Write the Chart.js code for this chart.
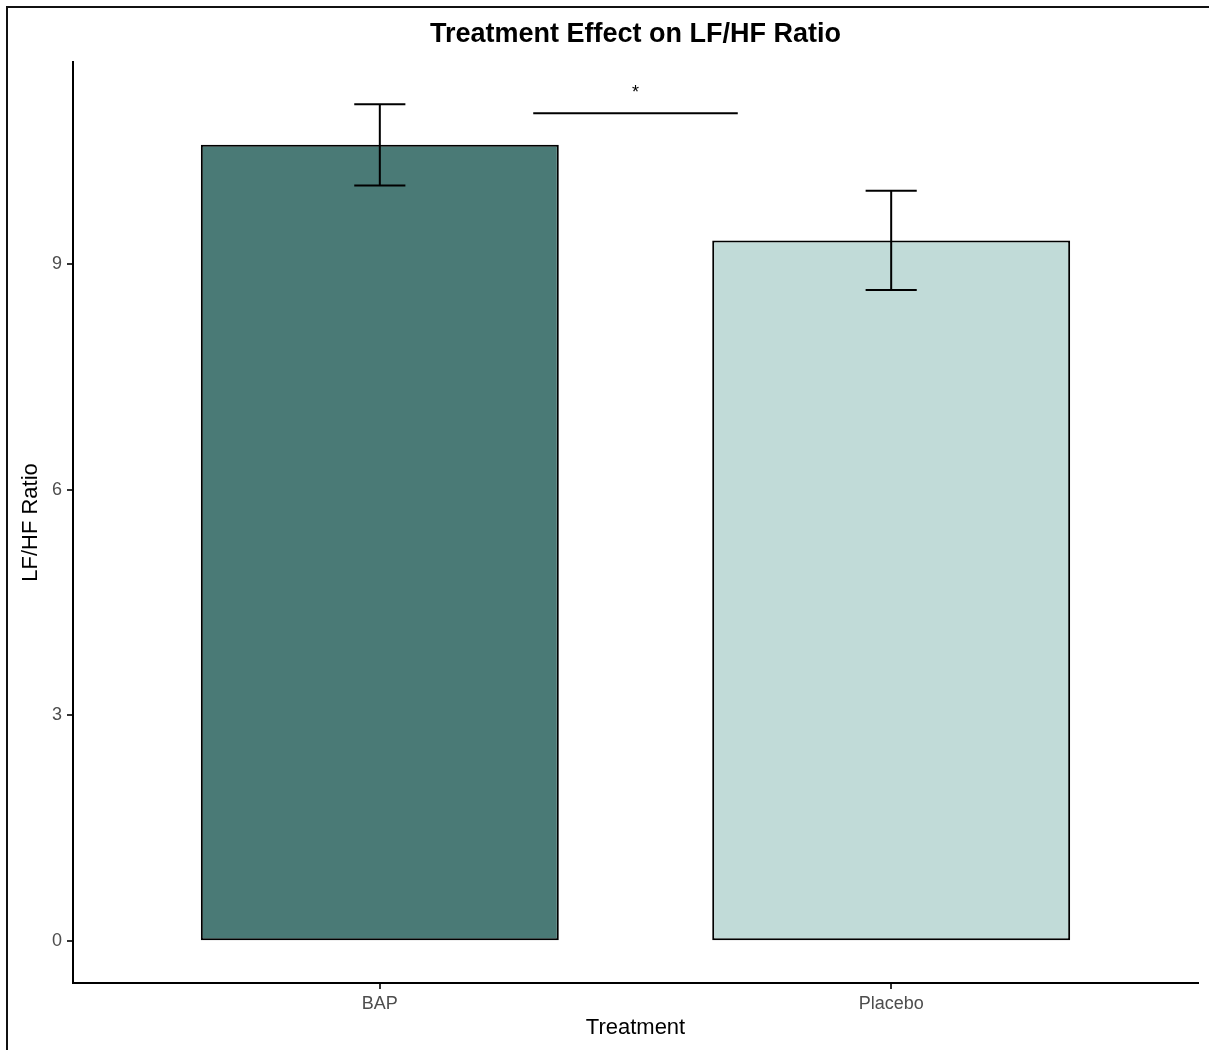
<!DOCTYPE html>
<html>
<head>
<meta charset="utf-8">
<script src="https://cdn.jsdelivr.net/npm/chart.js@4.4.1/dist/chart.umd.min.js"></script>
<style>
  html, body { margin: 0; padding: 0; background: #fff; overflow: hidden; }
  #wrap { position: relative; width: 1209px; height: 1050px; }
  #frame { position: absolute; left: 6px; top: 6px; width: 1300px; height: 1200px;
           border: 2px solid #111; pointer-events: none; }
  canvas { display: block; }
</style>
</head>
<body>
<div id="wrap">
  <canvas id="c" width="1209" height="1050"></canvas>
  <div id="frame"></div>
</div>
<script>
// Mean LF/HF ratio per treatment group with standard errors
const categories = ['BAP', 'Placebo'];
const meanRatio = [10.58, 9.31];
const stdError = [0.54, 0.66];
const barColors = ['#4a7a76', '#c1dbd8'];
const yTicks = [0, 3, 6, 9];

// Significance bracket between the groups
const sigSpan = [1.3, 1.7];
const sigHeight = 11.0;
const sigText = '*';

const chartTitle = 'Treatment Effect on LF/HF Ratio';
const FONT = '"Liberation Sans", Arial, Helvetica, sans-serif';
Chart.defaults.font.family = FONT;

const overlayPlugin = {
  id: 'overlay',
  afterDatasetsDraw(chart) {
    const { ctx, chartArea, scales: { x, y } } = chart;
    ctx.save();
    ctx.strokeStyle = '#000';
    ctx.lineWidth = 2;
    ctx.lineCap = 'butt';
    // error bars (mean ± SE)
    categories.forEach((c, i) => {
      const cx = x.getPixelForValue(i + 1);
      const half = x.getPixelForValue(i + 1 + 0.05) - cx;
      const yHi = y.getPixelForValue(meanRatio[i] + stdError[i]);
      const yLo = y.getPixelForValue(meanRatio[i] - stdError[i]);
      ctx.beginPath();
      ctx.moveTo(cx, yHi); ctx.lineTo(cx, yLo);
      ctx.moveTo(cx - half, yHi); ctx.lineTo(cx + half, yHi);
      ctx.moveTo(cx - half, yLo); ctx.lineTo(cx + half, yLo);
      ctx.stroke();
    });
    // significance bracket
    const x0 = x.getPixelForValue(sigSpan[0]);
    const x1 = x.getPixelForValue(sigSpan[1]);
    const ys = y.getPixelForValue(sigHeight);
    ctx.beginPath();
    ctx.moveTo(x0, ys); ctx.lineTo(x1, ys);
    ctx.stroke();
    ctx.fillStyle = '#000';
    ctx.font = '18px ' + FONT;
    ctx.textAlign = 'center';
    ctx.textBaseline = 'alphabetic';
    ctx.fillText(sigText, (x0 + x1) / 2, ys - 15);
    // title centred over the plotting panel
    ctx.font = 'bold 27px ' + FONT;
    ctx.textBaseline = 'middle';
    ctx.fillText(chartTitle, (chartArea.left + chartArea.right) / 2, 35);
    ctx.restore();
  }
};

new Chart(document.getElementById('c'), {
  type: 'bar',
  data: {
    datasets: [{
      data: categories.map((c, i) => ({ x: i + 1, y: meanRatio[i] })),
      backgroundColor: barColors,
      borderColor: '#000',
      borderWidth: 2,
      borderSkipped: false,
      categoryPercentage: 1,
      barPercentage: 0.7
    }]
  },
  options: {
    responsive: false,
    animation: false,
    devicePixelRatio: 1,
    layout: { padding: { top: 62, left: 0, right: 11, bottom: 0 } },
    plugins: {
      legend: { display: false },
      tooltip: { enabled: false },
      title: { display: false }
    },
    scales: {
      x: {
        type: 'linear',
        offset: false,
        min: 0.4,
        max: 2.6,
        afterBuildTicks: (s) => { s.ticks = categories.map((c, i) => ({ value: i + 1 })); },
        afterFit: (s) => { s.height = 67; },
        ticks: {
          callback: (v) => categories[Math.round(v) - 1],
          color: '#4d4d4d',
          font: { size: 18 },
          padding: 4,
          autoSkip: false,
          maxRotation: 0
        },
        grid: { offset: false, drawOnChartArea: false, tickLength: 6, color: '#333', lineWidth: 2 },
        border: { display: true, color: '#000', width: 2 },
        title: { display: true, text: 'Treatment', color: '#000', font: { size: 22 }, padding: 9 }
      },
      y: {
        type: 'linear',
        min: -0.556,
        max: 11.68,
        afterBuildTicks: (s) => { s.ticks = yTicks.map(v => ({ value: v })); },
        afterFit: (s) => { s.width = 73; },
        ticks: {
          color: '#4d4d4d',
          font: { size: 18 },
          padding: 5
        },
        grid: { drawOnChartArea: false, tickLength: 6, color: '#333', lineWidth: 2 },
        border: { display: true, color: '#000', width: 2 },
        title: { display: true, text: 'LF/HF Ratio', color: '#000', font: { size: 22 }, padding: 18 }
      }
    }
  },
  plugins: [overlayPlugin]
});
</script>
</body>
</html>
